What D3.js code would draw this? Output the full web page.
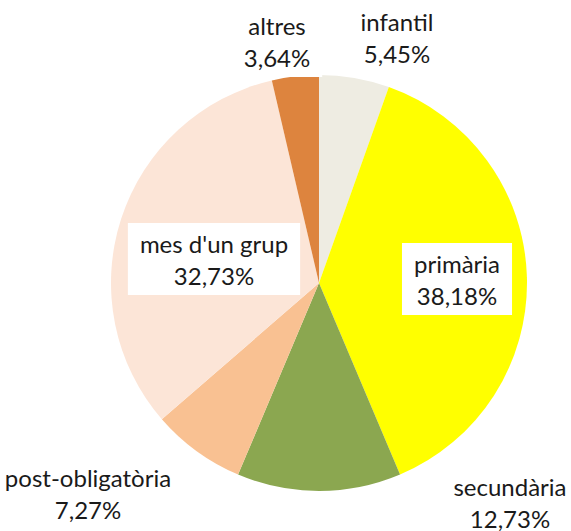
<!DOCTYPE html>
<html>
<head>
<meta charset="utf-8">
<script src="https://cdn.jsdelivr.net/npm/d3@7/dist/d3.min.js"></script>
<style>
  html, body { margin: 0; padding: 0; background: #fff; }
  svg { display: block; }
  .lbl { font-family: Lato, "Open Sans", sans-serif; font-size: 24px; fill: #1a1a1a; }
</style>
</head>
<body>
<div id="chart"></div>
<script>
// data
const categories = ["infantil", "primària", "secundària", "post-obligatòria", "mes d'un grup", "altres"];
const shares = [5.45, 38.18, 12.73, 7.27, 32.73, 3.64];

// look
const palette = ["#EEECE2", "#FFFF00", "#8BA750", "#F9C192", "#FCE5D7", "#DD843E"];
// label centres, as Excel placed them
const labelAt = [[397, 37], [457, 279], [510, 502], [88, 493], [214, 259], [277, 41]];

var width = 571;
var height = 531;
var cx = 319, cy = 283, radius = 208;

var catFormat = d3.formatLocale({ decimal: ",", thousands: ".", grouping: [3], currency: ["", "€"] }).format(".2f");

const dataset = categories.map((c, i) => ({ label: c, value: shares[i], color: palette[i], pos: labelAt[i] }));

var svg = d3.select("#chart").append("svg")
  .attr("width", width)
  .attr("height", height);

var g = svg.append("g")
  .attr("transform", "translate(" + cx + "," + cy + ")");

var pie = d3.pie()
  .sort(null)
  .value(d => d.value);

var arc = d3.arc()
  .innerRadius(0)
  .outerRadius(radius);

g.selectAll("path.slice")
  .data(pie(dataset))
  .enter().append("path")
  .attr("class", "slice")
  .attr("d", arc)
  .attr("fill", d => d.data.color);

// labels with white boxes behind
var labels = svg.selectAll("g.label")
  .data(dataset)
  .enter().append("g")
  .attr("class", "label")
  .attr("transform", d => "translate(" + d.pos[0] + "," + d.pos[1] + ")");

var box = labels.append("rect").attr("fill", "#fff");

var txt = labels.append("text")
  .attr("class", "lbl")
  .attr("text-anchor", "middle");

txt.append("tspan").attr("x", 0).attr("y", -6).text(d => d.label);
txt.append("tspan").attr("x", 0).attr("y", 26).text(d => catFormat(d.value) + "%");

box.each(function(d) {
  var t = d3.select(this.parentNode).select("text").node();
  var w = t.getBBox().width;
  d3.select(this)
    .attr("x", -w / 2 - 12)
    .attr("y", -36)
    .attr("width", w + 24)
    .attr("height", 72);
});
</script>
</body>
</html>
